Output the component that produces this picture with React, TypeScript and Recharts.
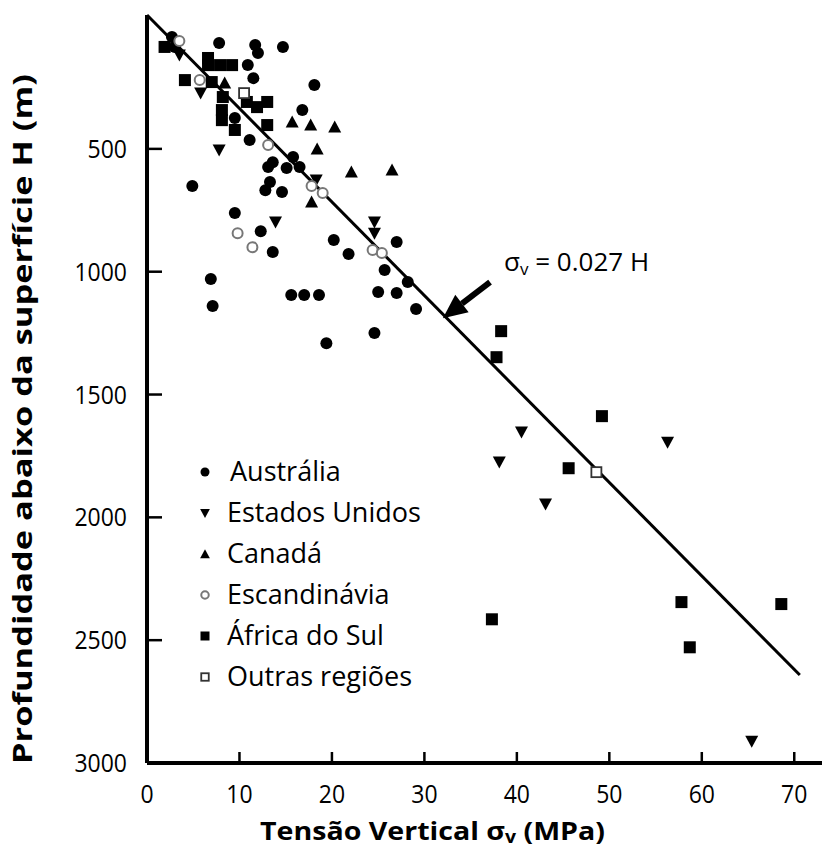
import React from 'react'
import { ScatterChart, Scatter, XAxis, YAxis, ReferenceLine, Legend } from 'recharts'

const FONT = '"Open Sans", "Noto Sans", sans-serif'

// Tensão vertical (MPa) e profundidade (m)
const australiaSigma = [2.7, 3.0, 7.8, 11.7, 12.0, 14.7, 10.9, 11.5, 18.1, 16.8, 9.5, 11.1, 15.8, 13.6, 13.1, 15.1, 16.5, 4.9, 13.3, 12.8, 14.6, 9.5, 12.3, 13.6, 20.2, 21.8, 27.0, 25.7, 28.2, 25.0, 27.0, 29.1, 24.6, 6.9, 7.1, 15.6, 17.0, 18.6, 19.4]
const australiaDepth = [45, 85, 69, 77, 110, 85, 159, 212, 240, 342, 374, 464, 533, 554, 574, 578, 574, 651, 635, 668, 676, 761, 835, 920, 871, 928, 879, 993, 1042, 1083, 1087, 1152, 1250, 1030, 1140, 1095, 1095, 1095, 1291]

const usaSigma = [3.5, 5.8, 7.8, 13.9, 18.3, 24.6, 24.6, 40.5, 38.1, 43.1, 56.3, 65.4]
const usaDepth = [118, 273, 505, 798, 627, 798, 843, 1653, 1775, 1946, 1694, 2911]

const canadaSigma = [8.4, 15.7, 17.7, 20.3, 18.4, 22.1, 26.5, 17.8]
const canadaDepth = [232, 391, 403, 411, 501, 594, 586, 716]

const scandinaviaSigma = [3.5, 5.7, 13.1, 17.8, 19.0, 9.8, 11.4, 24.4, 25.4]
const scandinaviaDepth = [61, 220, 484, 651, 680, 843, 900, 912, 924]

const southAfricaSigma = [1.9, 6.6, 6.6, 7.9, 9.2, 4.1, 7.0, 8.2, 8.1, 8.1, 10.8, 11.9, 13.0, 13.0, 9.5, 38.3, 37.8, 49.2, 45.6, 37.3, 57.8, 58.7, 68.6]
const southAfricaDepth = [85, 130, 159, 159, 159, 220, 228, 289, 342, 383, 309, 330, 309, 403, 423, 1242, 1348, 1588, 1800, 2415, 2345, 2529, 2353]

const otherSigma = [10.5, 48.6]
const otherDepth = [273, 1816]

// reta sigma_v = 0.027 H, extremos
const lineSigma = [0, 70.6]
const lineDepth = [-45, 2642]

// seta da anotação (cauda -> ponta)
const arrowSigma = [37.1, 32.0]
const arrowDepth = [1042, 1189]

const xTicks = [0, 10, 20, 30, 40, 50, 60, 70]
const yTicks = [500, 1000, 1500, 2000, 2500, 3000]

type Kind = 'circle' | 'down' | 'up' | 'openCircle' | 'square' | 'openSquare'

const zip = (xs: number[], ys: number[]) => xs.map((x, i) => ({ x, y: ys[i] }))

const SERIES: { name: string; kind: Kind; data: { x: number; y: number }[] }[] = [
  { name: 'Austrália', kind: 'circle', data: zip(australiaSigma, australiaDepth) },
  { name: 'Estados Unidos', kind: 'down', data: zip(usaSigma, usaDepth) },
  { name: 'Canadá', kind: 'up', data: zip(canadaSigma, canadaDepth) },
  { name: 'Escandinávia', kind: 'openCircle', data: zip(scandinaviaSigma, scandinaviaDepth) },
  { name: 'África do Sul', kind: 'square', data: zip(southAfricaSigma, southAfricaDepth) },
  { name: 'Outras regiões', kind: 'openSquare', data: zip(otherSigma, otherDepth) },
]

function Marker({ kind, cx, cy, s = 1 }: { kind: Kind; cx: number; cy: number; s?: number }) {
  if (cx == null || cy == null) return null
  switch (kind) {
    case 'circle':
      return <circle cx={cx} cy={cy} r={6 * s} fill="#000" />
    case 'down':
      return <polygon points={`${cx - 6.5 * s},${cy - 5.5 * s} ${cx + 6.5 * s},${cy - 5.5 * s} ${cx},${cy + 6.5 * s}`} fill="#000" />
    case 'up':
      return <polygon points={`${cx - 6.5 * s},${cy + 5.5 * s} ${cx + 6.5 * s},${cy + 5.5 * s} ${cx},${cy - 6.5 * s}`} fill="#000" />
    case 'openCircle':
      return <circle cx={cx} cy={cy} r={5 * s} fill="#fff" stroke="#777" strokeWidth={2} />
    case 'square':
      return <rect x={cx - 6 * s} y={cy - 6 * s} width={12 * s} height={12 * s} fill="#000" />
    case 'openSquare':
      return <rect x={cx - 5 * s} y={cy - 5 * s} width={10 * s} height={10 * s} fill="#fff" stroke="#333" strokeWidth={1.8} />
  }
  return null
}

function DepthTick({ x, y, payload }: any) {
  // tick interno (para a direita do eixo) + rótulo
  return (
    <g>
      <line x1={x + 20} x2={x + 35} y1={y} y2={y} stroke="#000" strokeWidth={2.5} />
      <text
        transform={`translate(${x},${y + 9}) scale(0.92,1)`}
        textAnchor="end"
        fontSize={25}
        fontFamily={FONT}
        fill="#000"
      >
        {payload.value}
      </text>
    </g>
  )
}

function StressTick({ x, y, payload }: any) {
  const axisY = y - 14
  return (
    <g>
      {payload.value !== 0 && (
        <line x1={x} x2={x} y1={axisY} y2={axisY - 11} stroke="#000" strokeWidth={2.5} />
      )}
      <text
        transform={`translate(${x},${y + 26}) scale(0.92,1)`}
        textAnchor="middle"
        fontSize={25}
        fontFamily={FONT}
        fill="#000"
      >
        {payload.value}
      </text>
    </g>
  )
}

function XTitle({ viewBox }: any) {
  const cx = viewBox.x + viewBox.width / 2 - 52
  return (
    <text
      x={cx}
      y={840}
      textAnchor="middle"
      fontSize={25}
      fontWeight={700}
      fontFamily={FONT}
      fill="#000"
      textLength={345}
      lengthAdjust="spacingAndGlyphs"
    >
      Tensão Vertical σ<tspan fontSize={17} dy={3}>v</tspan>
      <tspan dy={-3}> (MPa)</tspan>
    </text>
  )
}

function YTitle({ viewBox }: any) {
  const cy = viewBox.y + viewBox.height / 2 + 30
  return (
    <text
      x={32}
      y={cy}
      transform={`rotate(-90 32 ${cy})`}
      textAnchor="middle"
      fontSize={27}
      fontWeight={700}
      fontFamily={FONT}
      fill="#000"
      textLength={690}
      lengthAdjust="spacingAndGlyphs"
    >
      Profundidade abaixo da superfície H (m)
    </text>
  )
}

function Arrow({ x1, y1, x2, y2 }: any) {
  const ang = Math.atan2(y2 - y1, x2 - x1)
  const len = 24
  const half = 11
  const bx = x2 - len * Math.cos(ang)
  const by = y2 - len * Math.sin(ang)
  const px = -Math.sin(ang)
  const py = Math.cos(ang)
  return (
    <g>
      <line x1={x1} y1={y1} x2={bx} y2={by} stroke="#000" strokeWidth={6} />
      <polygon
        points={`${x2},${y2} ${bx + px * half},${by + py * half} ${bx - px * half},${by - py * half}`}
        fill="#000"
      />
      <text x={x1 + 14} y={y1 - 11} fontSize={26} fontFamily={FONT} fill="#000">
        σ<tspan fontSize={17} dy={4}>v</tspan>
        <tspan dy={-4}> = 0.027 H</tspan>
      </text>
    </g>
  )
}

const LEGEND_PAD = 16

function LegendBox() {
  return (
    <svg width={260} height={270}>
      {SERIES.map((s, i) => {
        const cy = LEGEND_PAD + 17 + i * 41
        return (
          <g key={s.name}>
            <Marker kind={s.kind} cx={10} cy={cy} s={0.75} />
            <text x={i === 0 ? 35 : 32} y={cy} dy={9} fontSize={27} fontFamily={FONT} fill="#000">
              {s.name}
            </text>
          </g>
        )
      })}
    </svg>
  )
}

export default function App() {
  return (
    <div style={{ position: 'absolute', left: 0, top: 0, background: '#fff' }}>
      <ScatterChart width={822} height={849} margin={{ top: 15, right: 0, bottom: 0, left: 0 }}>
        <XAxis
          type="number"
          dataKey="x"
          domain={[0, 73]}
          ticks={xTicks}
          allowDataOverflow
          height={86}
          tickSize={0}
          tickMargin={14}
          tick={<StressTick />}
          axisLine={{ stroke: '#000', strokeWidth: 4 }}
          label={{ content: <XTitle /> }}
        />
        <YAxis
          type="number"
          dataKey="y"
          domain={[-45, 3000]}
          ticks={yTicks}
          reversed
          allowDataOverflow
          width={147}
          tickSize={0}
          tickMargin={20}
          tick={<DepthTick />}
          axisLine={{ stroke: '#000', strokeWidth: 4 }}
          label={{ content: <YTitle /> }}
        />
        <ReferenceLine
          segment={[{ x: lineSigma[0], y: lineDepth[0] }, { x: lineSigma[1], y: lineDepth[1] }]}
          stroke="#000"
          strokeWidth={3}
          ifOverflow="visible"
        />
        <ReferenceLine
          segment={[{ x: arrowSigma[0], y: arrowDepth[0] }, { x: arrowSigma[1], y: arrowDepth[1] }]}
          ifOverflow="visible"
          shape={(p: any) => <Arrow {...p} />}
        />
        {SERIES.map((s) => (
          <Scatter
            key={s.name}
            name={s.name}
            data={s.data}
            isAnimationActive={false}
            shape={(p: any) => <Marker kind={s.kind} cx={p.cx} cy={p.cy} />}
          />
        ))}
        <Legend
          layout="vertical"
          align="center"
          verticalAlign="middle"
          content={() => <LegendBox />}
          wrapperStyle={{ position: 'absolute', left: 195, top: 455 - LEGEND_PAD, width: 260, height: 270 }}
        />
      </ScatterChart>
    </div>
  )
}
